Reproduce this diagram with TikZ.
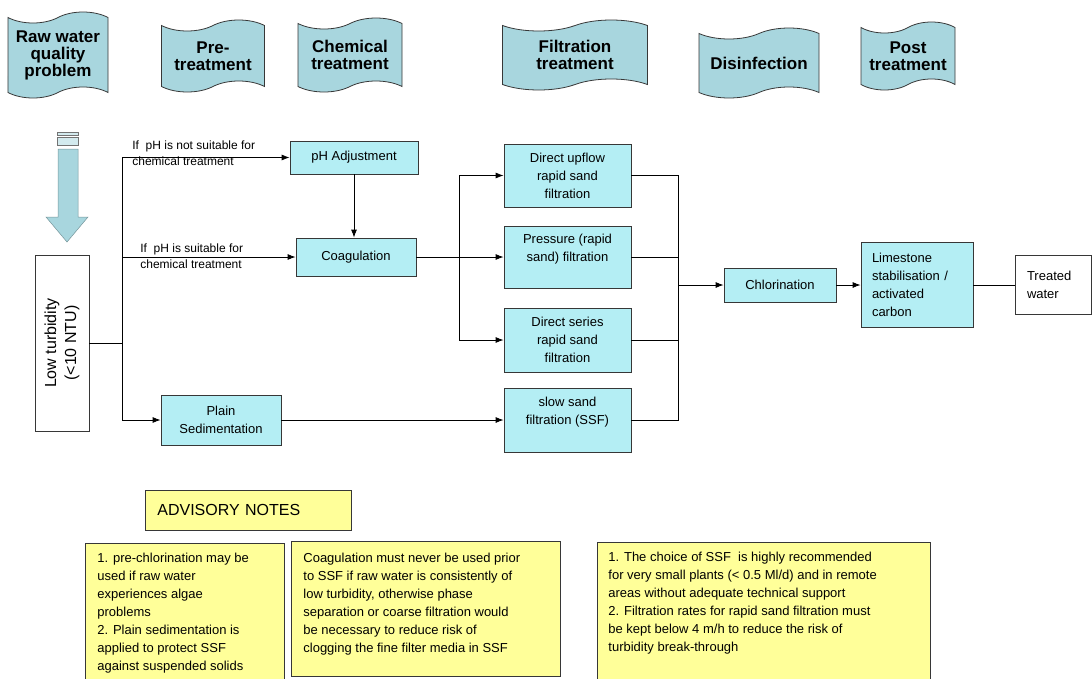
\documentclass[tikz,border=0pt]{standalone}
\usepackage{fontspec}
\setmainfont{Liberation Sans}
\usetikzlibrary{shapes.symbols,arrows.meta}

\definecolor{bannerblue}{RGB}{168,214,222}
\definecolor{boxcyan}{RGB}{180,238,244}
\definecolor{noteyellow}{RGB}{255,255,153}
\definecolor{edgegray}{RGB}{55,55,55}

\tikzset{
  banner/.style={shape=tape, draw=edgegray, fill=bannerblue, tape bend height=11pt,
    inner sep=0pt, align=center, font=\fontsize{17}{17}\selectfont\bfseries},
  stage/.style={draw=edgegray, fill=boxcyan, inner sep=0pt, align=center,
    font=\fontsize{13}{18}\selectfont},
  notebox/.style={draw=edgegray, fill=noteyellow, inner sep=0pt, anchor=north west},
  notetext/.style={inner sep=0pt, anchor=north west, align=left,
    font=\fontsize{13}{18}\selectfont},
  branchlbl/.style={inner sep=0pt, anchor=west, align=left,
    font=\fontsize{12}{16}\selectfont},
  flow/.style={-{Latex[length=8pt,width=6pt]}},
}

\begin{document}
\begin{tikzpicture}[x=1pt, y=-1pt, line width=0.8pt]
  \useasboundingbox (0,0) rectangle (1092,678);

  % stage banners
  \node[banner, minimum width=100, minimum height=86] (rawq) at (58,55) {Raw water\\quality\\problem};
  \node[banner, minimum width=103, minimum height=72] (pretr) at (213,56) {Pre-\\treatment};
  \node[banner, minimum width=104, minimum height=74] (chemtr) at (350,55) {Chemical\\treatment};
  \node[banner, minimum width=145, minimum height=70] (filtr) at (575,55) {Filtration\\treatment};
  \node[banner, minimum width=120, minimum height=70] (disinf) at (759,63) {Disinfection};
  \node[banner, minimum width=94, minimum height=68] (posttr) at (908,56) {Post\\treatment};

  % striped block arrow
  \filldraw[fill=bannerblue!50, draw=edgegray!70, line width=0.5pt] (57,132) rectangle (78,135);
  \filldraw[fill=bannerblue!50, draw=edgegray!70, line width=0.5pt] (57,137) rectangle (78,145);
  \filldraw[fill=bannerblue, draw=bannerblue!70!black, line width=0.5pt]
    (58,149) -- (78,149) -- (78,217) -- (88,217) -- (67,242) -- (46,217) -- (58,217) -- cycle;

  % process boxes
  \node[draw=edgegray, fill=white, rotate=90, minimum width=176, minimum height=54,
    inner sep=0pt, align=center, font=\fontsize{16}{20}\selectfont] (lowturb) at (62,343)
    {Low turbidity\\(<10 NTU)};
  \node[stage, minimum width=128, minimum height=33] (phadj) at (354,157.5) {pH Adjustment};
  \node[stage, minimum width=120, minimum height=38] (coag) at (356,257) {Coagulation};
  \node[stage, minimum width=120, minimum height=50] (plainsed) at (221,420) {Plain\\Sedimentation};
  \node[stage, minimum width=127, minimum height=63] (upflow) at (567.5,175.5) {Direct upflow\\rapid sand\\filtration};
  \node[stage, minimum width=127, minimum height=62] (pressure) at (567.5,257) {Pressure (rapid\\sand) filtration\\\mbox{}};
  \node[stage, minimum width=127, minimum height=64] (series) at (567.5,340) {Direct series\\rapid sand\\filtration};
  \node[stage, minimum width=127, minimum height=64] (slowsand) at (567.5,420) {slow sand\\filtration (SSF)\\\mbox{}};
  \node[stage, minimum width=112, minimum height=34] (chlor) at (780,285) {Chlorination};
  \node[stage, minimum width=112, minimum height=85, text width=90, align=left] (lime) at (917,285)
    {Limestone\\stabilisation /\\activated\\carbon};
  \node[draw=edgegray, fill=white, inner sep=0pt, minimum width=76, minimum height=59,
    text width=52, align=left, font=\fontsize{13}{18}\selectfont] (treated) at (1053,285) {Treated\\water};

  % branch labels
  \node[branchlbl] (lblnot) at (132,153) {If\ \ pH is not suitable for\\chemical treatment};
  \node[branchlbl] (lblok) at (140,256) {If\ \ pH is suitable for\\chemical treatment};

  % connectors
  \coordinate (split) at (122,343);
  \coordinate (fsplit) at (459,257);
  \coordinate (merge) at (678,285);
  \draw (lowturb) -- (split);
  \draw[flow] (split) |- (phadj);
  \draw[flow] (split) |- (coag);
  \draw[flow] (split) |- (plainsed);
  \draw[flow] (phadj.south) -- (phadj.south |- coag.north);
  \draw (coag) -- (fsplit);
  \draw[flow] (fsplit) |- (upflow);
  \draw[flow] (fsplit) -- (pressure);
  \draw[flow] (fsplit) |- (series);
  \draw[flow] (plainsed) -- (slowsand);
  \draw (upflow) -| (merge);
  \draw (pressure) -| (merge);
  \draw (series) -| (merge);
  \draw (slowsand) -| (merge);
  \draw[flow] (merge) -- (chlor);
  \draw[flow] (chlor) -- (lime);
  \draw (lime) -- (treated);

  % advisory notes
  \node[notebox, anchor=west, minimum height=40, text width=182, inner xsep=12pt,
    align=left, font=\fontsize{16}{18}\selectfont] (advisory) at (145,510) {ADVISORY NOTES};
  \node[notebox, minimum width=199, minimum height=137] (note1) at (85,543) {};
  \node[notebox, minimum width=269, minimum height=135] (note2) at (291,541) {};
  \node[notebox, minimum width=333, minimum height=150] (note3) at (597,542) {};
  \node[notetext] (note1txt) at (97,553) {1. pre-chlorination may be\\used if raw water\\experiences algae\\problems\\2. Plain sedimentation is\\applied to protect SSF\\against suspended solids};
  \node[notetext] (note2txt) at (303,553) {Coagulation must never be used prior\\to SSF if raw water is consistently of\\low turbidity, otherwise phase\\separation or coarse filtration would\\be necessary to reduce risk of\\clogging the fine filter media in SSF};
  \node[notetext] (note3txt) at (608,552) {1. The choice of SSF\ \ is highly recommended\\for very small plants (< 0.5 Ml/d) and in remote\\areas without adequate technical support\\2. Filtration rates for rapid sand filtration must\\be kept below 4 m/h to reduce the risk of\\turbidity break-through};
\end{tikzpicture}
\end{document}
